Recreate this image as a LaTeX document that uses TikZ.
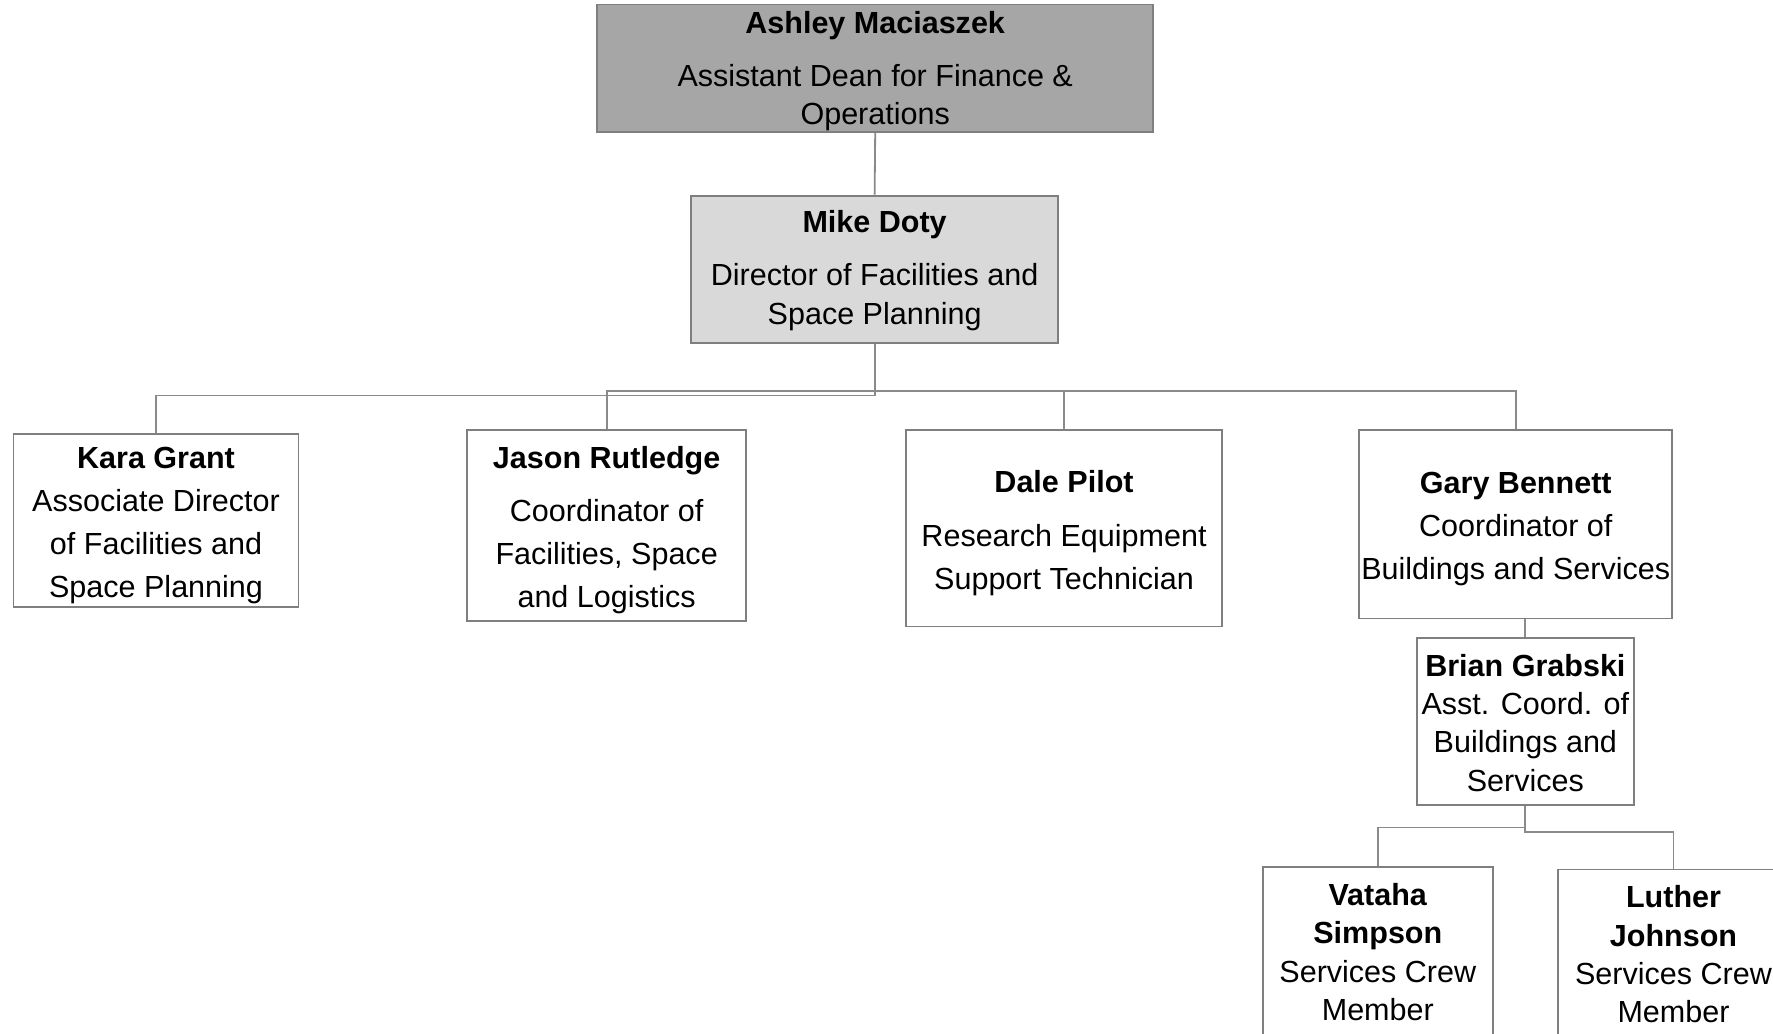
\documentclass[tikz,border=0pt]{standalone}
\usepackage{fontspec}
\setmainfont{Liberation Sans}
\definecolor{boxgray}{HTML}{7F7F7F}
\definecolor{linegray}{HTML}{8A8A8A}
\definecolor{darkfill}{HTML}{A6A6A6}
\definecolor{lightfill}{HTML}{D9D9D9}
\newcommand{\toppad}[1]{\rule{0pt}{#1}}
\begin{document}
\begin{tikzpicture}[x=0.5pt,y=-0.5pt,
  box/.style={draw=boxgray, line width=0.8pt, fill=white, inner sep=0pt, align=center,
    font=\fontsize{13.5}{17}\selectfont},
  wide/.style={font=\fontsize{13.5}{19}\selectfont},
  conn/.style={draw=linegray, line width=0.8pt}]
\useasboundingbox (0,0) rectangle (1568,914);
\clip (0,0) rectangle (1568,914);

\node[box, fill=darkfill, minimum width=246pt, minimum height=56.5pt] (ashley) at (774,60.5)
  {\toppad{12pt}\textbf{Ashley Maciaszek}\\[6.5pt]Assistant Dean for Finance \&\\Operations};
\node[box, fill=lightfill, minimum width=162.5pt, minimum height=65pt] (mike) at (773.5,238)
  {\toppad{11pt}\textbf{Mike Doty}\\[6.5pt]Director of Facilities and\\Space Planning};
\node[box, wide, minimum width=126pt, minimum height=76.5pt] (kara) at (138,460.5)
  {\toppad{14pt}\textbf{Kara Grant}\\Associate Director\\of Facilities and\\Space Planning};
\node[box, wide, minimum width=123.5pt, minimum height=84.5pt] (jason) at (536.5,464.5)
  {\toppad{14pt}\textbf{Jason Rutledge}\\[4.5pt]Coordinator of\\Facilities, Space\\and Logistics};
\node[box, wide, minimum width=140pt, minimum height=87pt] (dale) at (941,467)
  {\toppad{14pt}\textbf{Dale Pilot}\\[5pt]Research Equipment\\Support Technician};
\node[box, wide, minimum width=138.5pt, minimum height=83.5pt] (gary) at (1340.5,463.5)
  {\toppad{14pt}\textbf{Gary Bennett}\\Coordinator of\\Buildings and Services};
\node[box, minimum width=96pt, minimum height=74pt] (brian) at (1349,638)
  {\toppad{11pt}\textbf{Brian Grabski}\\Asst. Coord. of\\Buildings and\\Services};
\node[box, minimum width=101.5pt, minimum height=75pt] (vataha) at (1218.5,842)
  {\textbf{Vataha}\\\textbf{Simpson}\\Services Crew\\Member};
\node[box, minimum width=102pt, minimum height=75pt] (luther) at (1480,844)
  {\textbf{Luther}\\\textbf{Johnson}\\Services Crew\\Member};

\draw[conn] (ashley.south) -- (mike.north);
\draw[conn] (mike.south) -- ++(0,46) -| (kara.north);
\draw[conn] ([yshift=-21pt]mike.south) -| (jason.north);
\draw[conn] ([yshift=-21pt]mike.south) -| (dale.north);
\draw[conn] ([yshift=-21pt]mike.south) -| (gary.north);
\draw[conn] (brian.north) -- (brian.north |- gary.south);
\draw[conn] (brian.south) -- ++(0,19) -| (vataha.north);
\draw[conn] (brian.south) -- ++(0,23) -| (luther.north);
\end{tikzpicture}
\end{document}
